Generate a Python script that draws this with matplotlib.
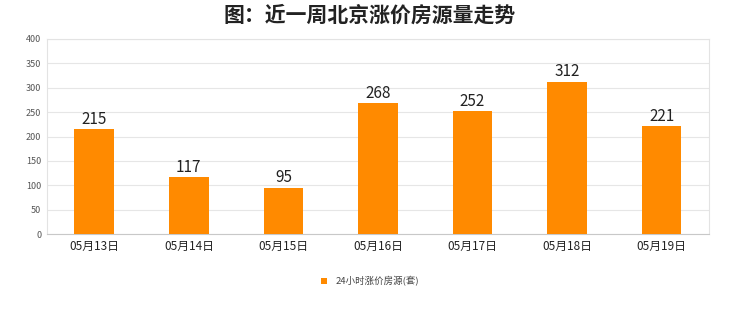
import matplotlib
matplotlib.use('Agg')
import matplotlib.pyplot as plt
import numpy as np

plt.rcParams['font.family'] = ['Noto Sans CJK SC', 'DejaVu Sans']

dates = ['05月13日', '05月14日', '05月15日', '05月16日', '05月17日', '05月18日', '05月19日']
counts = [215, 117, 95, 268, 252, 312, 221]
yticks = [0, 50, 100, 150, 200, 250, 300, 350, 400]

fig = plt.figure(figsize=(7.4, 3.12), dpi=100)
ax = fig.add_axes([0.0635, 0.25, 0.8945, 0.625])

x = np.arange(len(dates))
bars = ax.bar(x, counts, width=0.42, color='#FF8A00', zorder=3, label='24小时涨价房源(套)')
for xi, v in zip(x, counts):
    ax.text(xi, v + 3, str(v), ha='center', va='bottom', fontsize=11, color='#222222')

ax.set_xlim(-0.5, len(dates) - 0.5)
ax.set_ylim(0, 400)
ax.set_yticks(yticks)
ax.set_yticklabels([str(t) for t in yticks], fontsize=6.5, color='#555555')
ax.set_xticks(x)
ax.set_xticklabels(dates, fontsize=8.5, color='#222222')
ax.tick_params(length=0, pad=4)
ax.grid(axis='y', color='#e6e6e6', linewidth=0.8, zorder=0)
for s in ['top', 'right', 'left']:
    ax.spines[s].set_color('#e3e3e3')
    ax.spines[s].set_linewidth(0.8)
ax.spines['bottom'].set_color('#c8c8c8')
ax.spines['bottom'].set_linewidth(0.8)

fig.text(0.5, 0.95, '图：近一周北京涨价房源量走势', ha='center', va='center',
         fontsize=15, fontweight='bold', color='#222222')

leg = fig.legend(handles=[bars], loc='center', bbox_to_anchor=(0.5, 0.1), frameon=False,
                 fontsize=6.8, handlelength=0.6, handleheight=0.6, handletextpad=0.9)
for t in leg.get_texts():
    t.set_color('#444444')

fig.savefig('out.png', dpi=100, facecolor='white')
